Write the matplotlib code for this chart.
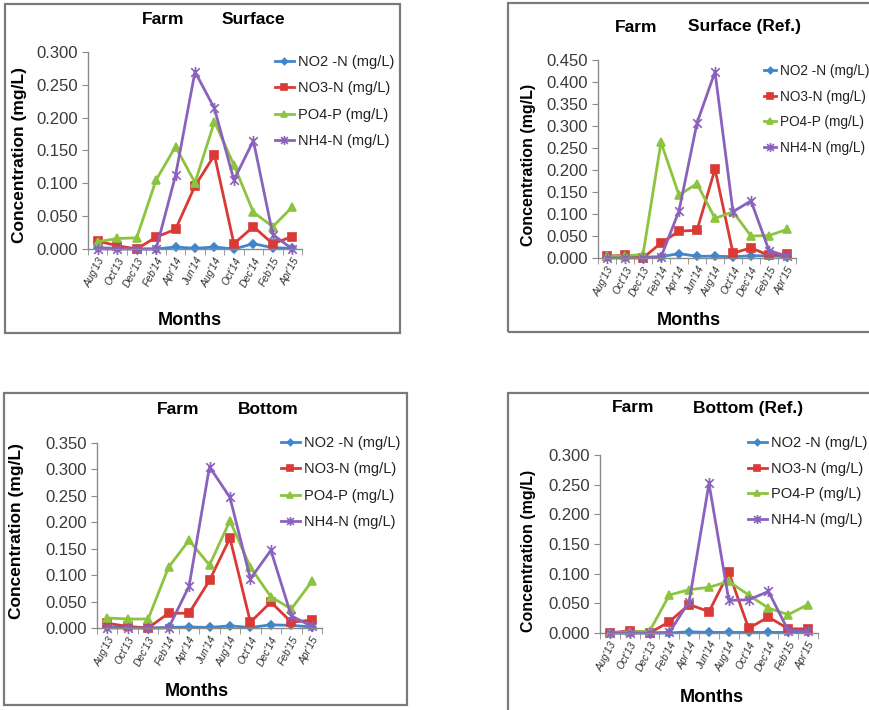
import matplotlib
matplotlib.use("Agg")
import matplotlib.pyplot as plt
from matplotlib.path import Path
from matplotlib.patches import Rectangle

plt.rcParams['font.family'] = ['Liberation Sans', 'DejaVu Sans']

months = ["Aug'13", "Oct'13", "Dec'13", "Feb'14", "Apr'14", "Jun'14",
          "Aug'14", "Oct'14", "Dec'14", "Feb'15", "Apr'15"]
series_names = ["NO2 -N (mg/L)", "NO3-N (mg/L)", "PO4-P (mg/L)", "NH4-N (mg/L)"]

# Farm Surface
surf_no2 = [0.002, 0.001, 0.000, 0.000, 0.003, 0.001, 0.003, 0.000, 0.008, 0.002, 0.001]
surf_no3 = [0.012, 0.005, 0.000, 0.018, 0.030, 0.096, 0.143, 0.008, 0.034, 0.008, 0.019]
surf_po4 = [0.011, 0.016, 0.017, 0.105, 0.156, 0.101, 0.194, 0.128, 0.056, 0.034, 0.064]
surf_nh4 = [0.000, 0.000, 0.000, 0.000, 0.112, 0.270, 0.214, 0.105, 0.165, 0.022, 0.000]

# Farm Surface (Ref.)
sref_no2 = [0.002, 0.002, 0.002, 0.003, 0.010, 0.004, 0.004, 0.003, 0.005, 0.005, 0.003]
sref_no3 = [0.004, 0.006, 0.000, 0.034, 0.061, 0.063, 0.202, 0.011, 0.023, 0.006, 0.008]
sref_po4 = [0.004, 0.005, 0.008, 0.263, 0.143, 0.169, 0.090, 0.105, 0.050, 0.051, 0.065]
sref_nh4 = [0.000, 0.000, 0.000, 0.002, 0.107, 0.307, 0.423, 0.105, 0.130, 0.017, 0.004]

# Farm Bottom
bot_no2 = [0.002, 0.001, 0.000, 0.001, 0.002, 0.001, 0.004, 0.001, 0.006, 0.005, 0.002]
bot_no3 = [0.009, 0.003, 0.000, 0.028, 0.028, 0.090, 0.170, 0.011, 0.049, 0.011, 0.015]
bot_po4 = [0.019, 0.017, 0.017, 0.115, 0.166, 0.119, 0.203, 0.115, 0.059, 0.036, 0.088]
bot_nh4 = [0.000, 0.000, 0.000, 0.000, 0.079, 0.305, 0.247, 0.093, 0.147, 0.023, 0.003]

# Farm Bottom (Ref.)
bref_no2 = [0.000, 0.000, 0.000, 0.000, 0.002, 0.001, 0.001, 0.001, 0.001, 0.001, 0.001]
bref_no3 = [0.000, 0.004, 0.000, 0.019, 0.048, 0.036, 0.102, 0.008, 0.027, 0.007, 0.007]
bref_po4 = [0.000, 0.002, 0.003, 0.064, 0.073, 0.077, 0.087, 0.064, 0.042, 0.031, 0.048]
bref_nh4 = [0.000, 0.000, 0.000, 0.001, 0.053, 0.252, 0.055, 0.056, 0.070, 0.004, 0.003]

colors = ['#3F86CC', '#D93A36', '#8CC43F', '#8A62BE']
star = Path([(-1, -1), (1, 1), (-1, 1), (1, -1), (0, -1.3), (0, 1.3)],
            [Path.MOVETO, Path.LINETO] * 3)
markers = ['D', 's', '^', star]
msizes = [4, 6, 6, 8]

W, H = 869, 710
fig = plt.figure(figsize=(W / 100, H / 100), dpi=100)


def fx(px):
    return px / W


def fy(py):
    return 1 - py / H


panels = [
    dict(data=[surf_no2, surf_no3, surf_po4, surf_nh4], ymax=0.300,
         ax=(88, 52, 302, 249), box=(5, 4, 400, 333),
         t1=("Farm", 142, 19), t2=("Surface", 222, 19),
         ylab=(20, 155, 12.5), xlab=(190, 320), leg=(275, 55, 10.5, 0.85, 1.3)),
    dict(data=[sref_no2, sref_no3, sref_po4, sref_nh4], ymax=0.450,
         ax=(598, 60, 796, 258), box=(508, 3, 880, 332),
         t1=("Farm", 615, 27), t2=("Surface (Ref.)", 688, 27),
         ylab=(528, 165, 11.5), xlab=(689, 320), leg=(764, 64, 9.8, 0.85, 0.9)),
    dict(data=[bot_no2, bot_no3, bot_po4, bot_nh4], ymax=0.350,
         ax=(97, 443, 322, 628), box=(4, 393, 407, 705),
         t1=("Farm", 157, 410), t2=("Bottom", 238, 410),
         ylab=(17, 531, 12.5), xlab=(197, 692), leg=(281, 436, 10.5, 0.85, 1.3)),
    dict(data=[bref_no2, bref_no3, bref_po4, bref_nh4], ymax=0.300,
         ax=(600, 455, 818, 633), box=(508, 393, 880, 712),
         t1=("Farm", 612, 408), t2=("Bottom (Ref.)", 693, 408),
         ylab=(528, 551, 11.5), xlab=(712, 698), leg=(748, 436, 10.5, 0.8, 1.3)),
]

x = list(range(len(months)))

for p in panels:
    bx0, by0, bx1, by1 = p['box']
    fig.patches.append(Rectangle((fx(bx0), fy(by1)), fx(bx1 - bx0), (by1 - by0) / H,
                                 transform=fig.transFigure, fill=False,
                                 edgecolor='#7a7a7a', linewidth=1.6, zorder=0))
    l, t, r, b = p['ax']
    ax = fig.add_axes([fx(l), fy(b), fx(r - l), (b - t) / H])
    handles = []
    for vals, c, m, ms, name in zip(p['data'], colors, markers, msizes, series_names):
        h, = ax.plot(x, vals, color=c, marker=m, markersize=ms, linewidth=2.0,
                     markeredgecolor=c, markeredgewidth=1.2, label=name, clip_on=False)
        handles.append(h)
    ax.set_xlim(-0.5, len(months) - 0.5)
    ax.set_ylim(0, p['ymax'])
    n = int(round(p['ymax'] / 0.05)) + 1
    ax.set_yticks([i * 0.05 for i in range(n)])
    ax.set_yticklabels([f"{i * 0.05:.3f}" for i in range(n)])
    ax.set_xticks(x)
    ax.set_xticklabels(months, rotation=62, ha='right', rotation_mode='anchor',
                       fontsize=7.5, fontstyle='italic', color='#333333')
    ax.set_xticks([i - 0.5 for i in range(len(months) + 1)], minor=True)
    ax.tick_params(axis='x', which='major', length=0, pad=5)
    ax.tick_params(axis='x', which='minor', length=4, color='#8a8a8a', direction='out')
    ax.tick_params(axis='y', labelsize=12, labelcolor='#3a3a3a', length=4,
                   color='#8a8a8a', pad=3)
    for s in ['top', 'right']:
        ax.spines[s].set_visible(False)
    for s in ['left', 'bottom']:
        ax.spines[s].set_color('#8a8a8a')
        ax.spines[s].set_linewidth(1.0)
    ax.patch.set_alpha(0)

    txt, tx, ty = p['t1']
    fig.text(fx(tx), fy(ty), txt, ha='left', va='center', fontsize=12.5, fontweight='bold')
    txt, tx, ty = p['t2']
    fig.text(fx(tx), fy(ty), txt, ha='left', va='center', fontsize=12.5, fontweight='bold')

    yx, yy, ys = p['ylab']
    fig.text(fx(yx), fy(yy), "Concentration (mg/L)", rotation=90, ha='center',
             va='center', fontsize=ys, fontweight='bold')
    mx, my = p['xlab']
    fig.text(fx(mx), fy(my), "Months", ha='center', va='center', fontsize=13,
             fontweight='bold')

    lx, ly, lfs, lsp, hl = p['leg']
    fig.legend(handles=handles, loc='upper left', bbox_to_anchor=(fx(lx), fy(ly)),
               bbox_transform=fig.transFigure, frameon=False, fontsize=lfs,
               handlelength=hl, handletextpad=0.25, labelspacing=lsp,
               borderpad=0, borderaxespad=0, markerscale=0.8, labelcolor='#222222')

fig.savefig("out.png", dpi=100)
